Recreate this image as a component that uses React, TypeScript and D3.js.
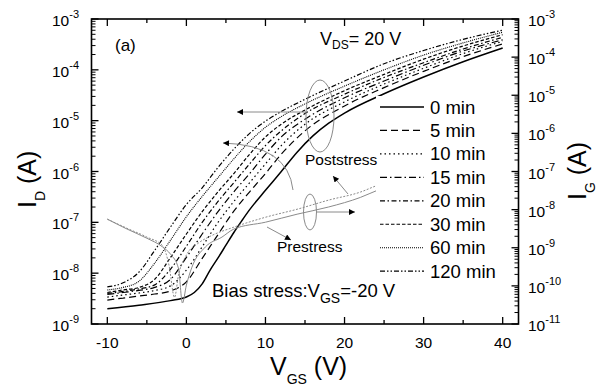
import React from 'react'
import * as d3 from 'd3'

// V_GS grid (V) of the stressed transfer curves
const VGS = [-10, -8, -6, -4, -2, 0, 2, 4, 6, 8, 10, 12, 15, 20, 25, 30, 35, 40]
// the fresh device is read finer around turn-on
const VGS_0 = [-10, -6, -2, 0, 1, 2, 3, 4, 5, 6, 7, 8, 10, 12, 14, 16, 18, 20, 25, 30, 35, 40]

// log10(I_D / A)
const ID_0 = [-8.70, -8.63, -8.54, -8.47, -8.38, -8.21, -7.94, -7.70, -7.45, -7.20, -6.97, -6.75, -6.37, -6.00, -5.62, -5.30, -5.05, -4.85, -4.47, -4.14, -3.84, -3.57]
const ID_5 = [-8.53, -8.49, -8.45, -8.41, -8.35, -8.17, -7.71, -7.24, -6.78, -6.40, -6.04, -5.66, -5.20, -4.71, -4.35, -4.03, -3.74, -3.49]
const ID_10 = [-8.47, -8.43, -8.39, -8.34, -8.25, -7.94, -7.48, -7.00, -6.59, -6.22, -5.85, -5.49, -5.07, -4.63, -4.28, -3.97, -3.68, -3.44]
const ID_15 = [-8.42, -8.38, -8.34, -8.28, -8.12, -7.69, -7.23, -6.79, -6.40, -6.04, -5.66, -5.32, -4.97, -4.55, -4.22, -3.91, -3.63, -3.41]
const ID_20 = [-8.40, -8.36, -8.31, -8.23, -7.92, -7.47, -7.00, -6.59, -6.22, -5.85, -5.49, -5.20, -4.86, -4.48, -4.15, -3.86, -3.59, -3.36]
const ID_30 = [-8.38, -8.33, -8.28, -8.12, -7.69, -7.23, -6.79, -6.40, -6.04, -5.66, -5.32, -5.07, -4.79, -4.41, -4.09, -3.79, -3.53, -3.31]
const ID_60 = [-8.33, -8.28, -8.16, -7.80, -7.35, -6.89, -6.49, -6.12, -5.75, -5.41, -5.13, -4.92, -4.67, -4.32, -4.00, -3.71, -3.47, -3.26]
const ID_120 = [-8.27, -8.19, -7.98, -7.55, -7.09, -6.65, -6.32, -5.92, -5.56, -5.25, -5.01, -4.82, -4.58, -4.22, -3.88, -3.62, -3.40, -3.22]

// gate leakage, log10(I_G / A), right axis
const VG_PRE = [-10, -7.5, -5, -3, -2, -1, -0.5, 0, 0.7, 2.4, 4.5, 6, 10, 14, 18, 22, 24.2, 26]
const IG_PRE = [-8.25, -8.51, -8.75, -8.98, -9.17, -9.54, -10.45, -9.98, -9.51, -8.98, -8.72, -8.51, -8.33, -8.12, -7.93, -7.68, -7.49, -7.36]
const VG_POST = [-10, -7.5, -5, -3, -2.2, -1.5, -1, 0, 1.5, 3, 6, 10, 14, 18, 22, 24.2, 26]
const IG_POST = [-8.25, -8.49, -8.72, -8.95, -9.46, -10.30, -9.72, -9.19, -8.88, -8.70, -8.46, -8.20, -7.99, -7.75, -7.54, -7.36, -7.24]

const LABELS = ['0 min', '5 min', '10 min', '15 min', '20 min', '30 min', '60 min', '120 min']
const X_TICKS = [-10, 0, 10, 20, 30, 40]
const YL_EXP = [-9, -8, -7, -6, -5, -4, -3]
const YR_EXP = [-11, -10, -9, -8, -7, -6, -5, -4, -3]

const FONT = '"Liberation Sans", Arial, Helvetica, sans-serif'
const GRAY = '#8a8a8a'

export default function App() {
  const L = 91.5, R = 518.5, T = 19, B = 324
  const x = d3.scaleLinear().domain([-12, 42]).range([L, R])
  const yL = d3.scaleLog().domain([1e-9, 1e-3]).range([B, T])
  const yR = d3.scaleLog().domain([1e-11, 1e-3]).range([B, T])

  const lineL = d3.line<[number, number]>().x(d => x(d[0])).y(d => yL(Math.pow(10, d[1]))).curve(d3.curveMonotoneX)
  const lineR = d3.line<[number, number]>().x(d => x(d[0])).y(d => yR(Math.pow(10, d[1]))).curve(d3.curveMonotoneX)
  const pts = (xs: number[], ys: number[]) => xs.map((v, i) => [v, ys[i]] as [number, number])

  const series = [
    { xs: VGS_0, ys: ID_0, dash: undefined, w: 1.5 },
    { xs: VGS, ys: ID_5, dash: '7,4', w: 1.2 },
    { xs: VGS, ys: ID_10, dash: '1.5,3', w: 1.2 },
    { xs: VGS, ys: ID_15, dash: '7,3,1.5,3', w: 1.2 },
    { xs: VGS, ys: ID_20, dash: '5,2.5,1.5,2.5', w: 1.2 },
    { xs: VGS, ys: ID_30, dash: '3.5,2', w: 1.2 },
    { xs: VGS, ys: ID_60, dash: '1,1', w: 1.1 },
    { xs: VGS, ys: ID_120, dash: '5,2,1.5,2,1.5,2', w: 1.2 },
  ]

  const xMinor = d3.range(-10, 41, 5)
  const minorL: number[] = []
  YL_EXP.slice(0, -1).forEach(e => { for (let k = 2; k < 10; k++) minorL.push(k * Math.pow(10, e)) })
  const minorR: number[] = []
  YR_EXP.slice(0, -1).forEach(e => { for (let k = 2; k < 10; k++) minorR.push(k * Math.pow(10, e)) })

  const legX = 380, legY = 107, legStep = 23.45

  return (
    <svg width={600} height={387} style={{ position: 'fixed', left: 0, top: 0, background: '#fff' }} fontFamily={FONT}>
      <defs>
        <clipPath id="plot"><rect x={L} y={T} width={R - L} height={B - T} /></clipPath>
        <marker id="ah" viewBox="0 0 10 10" refX={10} refY={5} markerWidth={8} markerHeight={6} orient="auto" markerUnits="userSpaceOnUse">
          <path d="M0,0 L10,5 L0,10 z" fill="#000" />
        </marker>
      </defs>

      <g clipPath="url(#plot)">
        {series.map((s, i) => (
          <path key={i} d={lineL(pts(s.xs, s.ys)) || ''} fill="none" stroke="#000" strokeWidth={s.w} strokeDasharray={s.dash} />
        ))}
        <path d={lineR(pts(VG_PRE, IG_PRE)) || ''} fill="none" stroke={GRAY} strokeWidth={1} />
        <path d={lineR(pts(VG_POST, IG_POST)) || ''} fill="none" stroke={GRAY} strokeWidth={1} strokeDasharray="2,1.5" />
      </g>

      {/* annotations */}
      <ellipse cx={320} cy={116} rx={14} ry={36} fill="none" stroke={GRAY} strokeWidth={1} />
      <line x1={306} y1={112} x2={237} y2={112} stroke={GRAY} strokeWidth={1} markerEnd="url(#ah)" />
      <path d="M293,190 Q288,145 223,143" fill="none" stroke={GRAY} strokeWidth={1} markerEnd="url(#ah)" />
      <line x1={348} y1={194} x2={333} y2={176} stroke={GRAY} strokeWidth={1} markerEnd="url(#ah)" />
      <ellipse cx={310} cy={212} rx={6.5} ry={18} fill="none" stroke={GRAY} strokeWidth={1} />
      <line x1={316} y1={212} x2={355} y2={212} stroke={GRAY} strokeWidth={1} markerEnd="url(#ah)" />
      <line x1={267} y1={227} x2={291} y2={240} stroke={GRAY} strokeWidth={1} markerEnd="url(#ah)" />

      {/* legend */}
      <rect x={376} y={96} width={130} height={186} fill="#fff" />
      {series.map((s, i) => (
        <g key={i}>
          <line x1={legX} x2={legX + 44} y1={legY + i * legStep} y2={legY + i * legStep} stroke="#000" strokeWidth={s.w} strokeDasharray={s.dash} />
          <text x={430} y={legY + i * legStep + 6.5} fontSize={18.5}>{LABELS[i]}</text>
        </g>
      ))}

      <text x={305} y={165} fontSize={15.5}>Poststress</text>
      <text x={277} y={252} fontSize={15.5}>Prestress</text>

      {/* frame and ticks */}
      <rect x={L} y={T} width={R - L} height={B - T} fill="none" stroke="#000" strokeWidth={1.6} />
      {xMinor.map(v => {
        const len = v % 10 === 0 ? 7 : 4
        return (
          <g key={v}>
            <line x1={x(v)} x2={x(v)} y1={B} y2={B - len} stroke="#000" strokeWidth={1.3} />
            <line x1={x(v)} x2={x(v)} y1={T} y2={T + len} stroke="#000" strokeWidth={1.3} />
          </g>
        )
      })}
      {YL_EXP.map(e => <line key={e} x1={L} x2={L + 7} y1={yL(Math.pow(10, e))} y2={yL(Math.pow(10, e))} stroke="#000" strokeWidth={1.3} />)}
      {minorL.map((v, i) => <line key={i} x1={L} x2={L + 4} y1={yL(v)} y2={yL(v)} stroke="#000" strokeWidth={1} />)}
      {YR_EXP.map(e => <line key={e} x1={R} x2={R - 7} y1={yR(Math.pow(10, e))} y2={yR(Math.pow(10, e))} stroke="#000" strokeWidth={1.3} />)}
      {minorR.map((v, i) => <line key={i} x1={R} x2={R - 4} y1={yR(v)} y2={yR(v)} stroke="#000" strokeWidth={1} />)}

      {/* tick labels */}
      {X_TICKS.map(v => <text key={v} x={x(v)} y={348} fontSize={15.5} textAnchor="middle">{v}</text>)}
      {YL_EXP.map(e => (
        <text key={e} x={79} y={yL(Math.pow(10, e)) + 7} fontSize={15.5} textAnchor="end">
          10<tspan fontSize={11} dy={-8}>{e}</tspan>
        </text>
      ))}
      {YR_EXP.map(e => (
        <text key={e} x={528} y={yR(Math.pow(10, e)) + 7} fontSize={15.5}>
          10<tspan fontSize={11} dy={-8}>{e}</tspan>
        </text>
      ))}

      {/* axis titles */}
      <text x={270} y={375} fontSize={25}>V<tspan fontSize={14} dy={9}>GS</tspan><tspan dy={-9}> (V)</tspan></text>
      <text transform="translate(36,208) rotate(-90)" fontSize={25}>I<tspan fontSize={14} dy={9}>D</tspan><tspan dy={-9}> (A)</tspan></text>
      <text transform="translate(586,200) rotate(-90)" fontSize={25}>I<tspan fontSize={14} dy={9}>G</tspan><tspan dy={-9}> (A)</tspan></text>

      {/* in-plot labels */}
      <text x={115} y={51} fontSize={17}>(a)</text>
      <text x={320} y={45} fontSize={18}>V<tspan fontSize={12} dy={4}>DS</tspan><tspan dy={-4}>= 20 V</tspan></text>
      <text x={212} y={297} fontSize={18.5}>Bias stress:V<tspan fontSize={14} dy={6}>GS</tspan><tspan dy={-6}>=-20 V</tspan></text>
    </svg>
  )
}
